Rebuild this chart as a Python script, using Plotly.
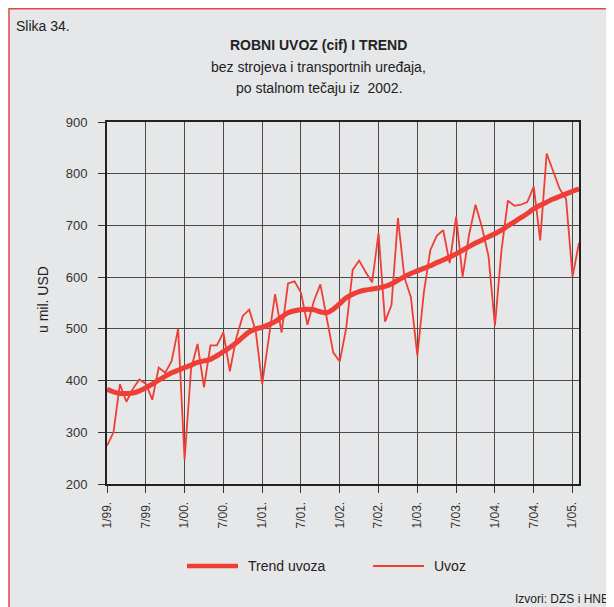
import plotly.graph_objects as go

# ---- data ----
years = ["99", "00", "01", "02", "03", "04", "05"]
months = [f"{m}/{y}." for y in years for m in range(1, 13)][:74]

uvoz = [
    274, 300, 393, 359, 384, 402, 394, 363, 425, 415, 438, 500,
    247, 422, 471, 387, 468, 468, 493, 418, 483, 525, 537, 496,
    393, 478, 567, 493, 588, 592, 570, 508, 554, 586, 522, 454,
    437, 502, 614, 632, 610, 590, 685, 514, 546, 714, 599, 561,
    448, 570, 652, 680, 691, 627, 717, 601, 682, 740, 696, 641,
    506, 651, 748, 738, 740, 745, 775, 671, 839, 806, 771, 751,
    601, 666,
]
trend = [
    383, 378, 375, 375, 376, 380, 386, 393, 401, 408, 415, 420,
    425, 430, 435, 438, 441, 448, 456, 464, 473, 484, 494, 500,
    503, 508, 514, 523, 531, 535, 537, 538, 537, 533, 531, 538,
    549, 560, 567, 572, 575, 577, 579, 582, 587, 594, 601, 607,
    612, 617, 622, 628, 633, 639, 645, 652, 659, 666, 672, 678,
    684, 691, 699, 707, 715, 723, 732, 739, 745, 751, 756, 761,
    766, 771,
]
tick_labels = ["1/99.", "7/99.", "1/00.", "7/00.", "1/01.", "7/01.", "1/02.",
               "7/02.", "1/03.", "7/03.", "1/04.", "7/04.", "1/05."]
y_ticks = [200, 300, 400, 500, 600, 700, 800, 900]

# ---- layout helpers (page pixel coords; page has 8px body margin) ----
OFF = 8
PW, PH = 614, 607
W, H = PW - OFF, PH - OFF
L, R, T, B = 107, 579, 122, 484
def px(x):
    return (x - L) / (R - L)
def py(y):
    return (B - y) / (B - T)

RED = "#ee3e36"
BG = "#e6e7e9"
FONT = "Liberation Sans, Arial, sans-serif"

fig = go.Figure()
fig.add_trace(go.Scatter(x=months, y=uvoz, mode="lines", name="Uvoz",
                         line=dict(color=RED, width=1.8), showlegend=False))
fig.add_trace(go.Scatter(x=months, y=trend, mode="lines", name="Trend uvoza",
                         line=dict(color=RED, width=5, shape="spline"),
                         showlegend=False))

fig.update_layout(
    width=W, height=H,
    margin=dict(l=L - OFF, r=PW - R, t=T - OFF, b=PH - B, pad=0),
    paper_bgcolor="white",
    plot_bgcolor="rgba(0,0,0,0)",
    font=dict(family=FONT, color="#222"),
    showlegend=False,
)
fig.update_xaxes(
    type="category", categoryorder="array", categoryarray=months,
    range=[0, 73], tickmode="array", tickvals=tick_labels, ticktext=tick_labels,
    tickangle=-90, tickfont=dict(size=12, color="#333"),
    showgrid=True, gridcolor="#4a4a4a", gridwidth=1,
    showline=True, linecolor="#222", linewidth=2, mirror=True,
    ticks="outside", ticklen=7, tickcolor="#333", tickwidth=1,
    ticklabelstandoff=4, zeroline=False,
)
fig.update_yaxes(
    range=[200, 900], tickmode="array", tickvals=y_ticks,
    tickfont=dict(size=13, color="#333"),
    showgrid=True, gridcolor="#4a4a4a", gridwidth=1,
    showline=True, linecolor="#222", linewidth=2, mirror=True,
    ticks="outside", ticklen=7, tickcolor="#333", tickwidth=1,
    ticklabelstandoff=8, zeroline=False,
)

# frame
fig.add_shape(type="rect", xref="paper", yref="paper", layer="below",
              x0=px(9), x1=px(640), y0=py(640), y1=py(8.7),
              fillcolor=BG, line=dict(color="#e04a45", width=1.5))

# legend (manual)
fig.add_shape(type="line", xref="paper", yref="paper",
              x0=px(187), x1=px(238), y0=py(566), y1=py(566),
              line=dict(color=RED, width=4.5))
fig.add_shape(type="line", xref="paper", yref="paper",
              x0=px(373), x1=px(424), y0=py(566), y1=py(566),
              line=dict(color=RED, width=1.8))

def ann(text, x, y, size=14, xanchor="left", bold=False, angle=0, color="#222"):
    fig.add_annotation(text=f"<b>{text}</b>" if bold else text,
                       xref="paper", yref="paper", x=px(x), y=py(y),
                       xanchor=xanchor, yanchor="middle", showarrow=False,
                       textangle=angle, font=dict(size=size, color=color, family=FONT))

ann("Trend uvoza", 246, 566, 14)
ann("Uvoz", 432, 566, 14)
ann("Slika 34.", 14, 26, 14)
ann("ROBNI UVOZ (cif) I TREND", 318, 45, 14, xanchor="center", bold=True)
ann("bez strojeva i transportnih uređaja,", 318, 67, 14, xanchor="center")
ann("po stalnom tečaju iz  2002.", 319, 88, 14, xanchor="center")
ann("u mil. USD", 43, 300, 14, xanchor="center", angle=-90)
ann("Izvori: DZS i HNB", 513, 599, 12)

fig.write_html("out.html")
